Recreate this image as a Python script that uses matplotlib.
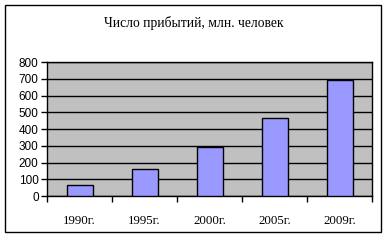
import matplotlib.pyplot as plt
from matplotlib.patches import Rectangle

years = ['1990г.', '1995г.', '2000г.', '2005г.', '2009г.']
arrivals = [66, 159, 292, 464, 692]
yticks = [0, 100, 200, 300, 400, 500, 600, 700, 800]

fig = plt.figure(figsize=(3.88, 2.45), dpi=100)
fig.patches.append(Rectangle((5 / 388, 1 - 232 / 245), 376 / 388, 227 / 245,
                             transform=fig.transFigure, fill=False,
                             edgecolor='black', linewidth=1))

ax = fig.add_axes([47 / 388, 1 - 196 / 245, 325 / 388, 134 / 245])
ax.set_facecolor('#C0C0C0')
x = range(len(years))
ax.bar(x, arrivals, width=0.4, color='#9999FF', edgecolor='black',
       linewidth=1, zorder=3)

ax.set_xlim(-0.5, len(years) - 0.5)
ax.set_ylim(0, 800)
ax.set_yticks(yticks)
ax.yaxis.grid(True, color='black', linewidth=1, zorder=1)
ax.set_axisbelow(True)

ax.set_xticks(list(x))
ax.set_xticklabels(years, family='Liberation Serif', fontsize=9.3)
ax.set_xticks([i - 0.5 for i in range(len(years) + 1)], minor=True)
ax.tick_params(axis='x', which='major', length=0, pad=14)
ax.tick_params(axis='x', which='minor', length=4, width=1, direction='out')
ax.tick_params(axis='y', length=4, width=1, direction='out', pad=2)
for lab in ax.get_yticklabels():
    lab.set_family('Liberation Sans')
    lab.set_fontsize(8.5)

for s in ax.spines.values():
    s.set_linewidth(1)

fig.text(0.5, 1 - 23 / 245, 'Число прибытий, млн. человек', ha='center',
         va='center', family='Liberation Serif', fontsize=9.8)

fig.savefig('out.png', dpi=100)
